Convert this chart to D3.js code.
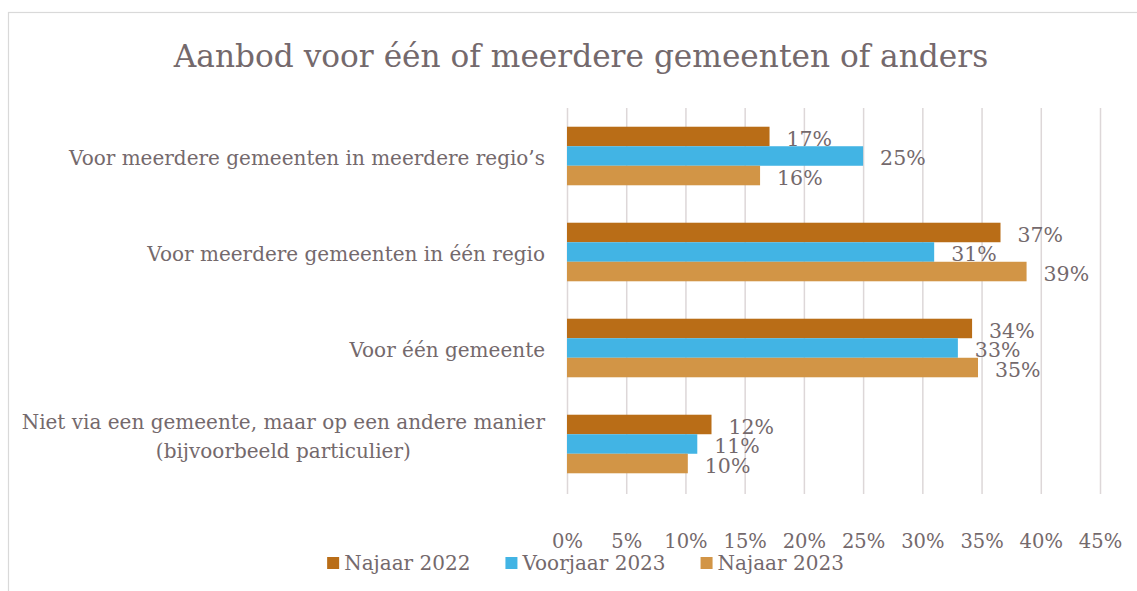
<!DOCTYPE html>
<html>
<head>
<meta charset="utf-8">
<script src="https://cdn.jsdelivr.net/npm/d3@7"></script>
<style>
  html, body { margin: 0; padding: 0; background: #fff; }
  svg { display: block; }
  text { font-family: "DejaVu Serif", "Liberation Serif", serif; fill: #74696C; }
</style>
</head>
<body>
<svg id="chart" width="1137" height="591"></svg>
<script>
const title = "Aanbod voor één of meerdere gemeenten of anders";
const categories = [
  ["Voor meerdere gemeenten in meerdere regio’s"],
  ["Voor meerdere gemeenten in één regio"],
  ["Voor één gemeente"],
  ["Niet via een gemeente, maar op een andere manier", "(bijvoorbeeld particulier)"]
];
const seriesNames = ["Najaar 2022", "Voorjaar 2023", "Najaar 2023"];
const najaar2022 = [0.171, 0.366, 0.342, 0.122];
const voorjaar2023 = [0.250, 0.310, 0.330, 0.110];
const najaar2023 = [0.163, 0.388, 0.347, 0.102];
const tickValues = [0, 0.05, 0.10, 0.15, 0.20, 0.25, 0.30, 0.35, 0.40, 0.45];
const colors = ["#B96D17", "#42B4E4", "#D29546"];

const seriesValues = [najaar2022, voorjaar2023, najaar2023];
const catKeys = categories.map(c => c.join(" "));

const svg = d3.select("#chart");
svg.append("rect").attr("width", 1137).attr("height", 591).attr("fill", "#fff");
// chart frame
svg.append("rect").attr("x", 8.5).attr("y", 12.5).attr("width", 1300).attr("height", 800)
  .attr("fill", "none").attr("stroke", "#D9D9D9").attr("stroke-width", 1.2);

// title
svg.append("text").attr("x", 581).attr("y", 67).attr("text-anchor", "middle")
  .style("font-size", "31.2px").text(title);

const x = d3.scaleLinear().domain([0, 0.45]).range([567, 1100]);
const y = d3.scaleBand().domain(catKeys).range([108, 492]).paddingInner(0.39).paddingOuter(0.195);
const ySub = d3.scaleBand().domain(seriesNames).range([0, y.bandwidth()]);

// gridlines via axis
const grid = svg.append("g").attr("transform", "translate(0,494)")
  .call(d3.axisBottom(x).tickValues(tickValues).tickSize(-386).tickFormat(""));
grid.select(".domain").remove();
grid.selectAll(".tick line").attr("stroke", "#DDD7D8").attr("stroke-width", 1.5);

// tick labels
const ax = svg.append("g").attr("transform", "translate(0,494)")
  .call(d3.axisBottom(x).tickValues(tickValues).tickSize(0).tickPadding(0).tickFormat(d3.format(".0%")));
ax.select(".domain").remove();
ax.selectAll(".tick text").attr("y", 47).attr("dy", "0.35em")
  .style("font-size", "19.5px").style("font-family", "DejaVu Serif").attr("fill", "#74696C");

// bars
seriesNames.forEach((s, si) => {
  const g = svg.append("g");
  g.selectAll("rect").data(seriesValues[si]).join("rect")
    .attr("x", x(0))
    .attr("y", (d, i) => y(catKeys[i]) + ySub(s))
    .attr("width", d => x(d) - x(0))
    .attr("height", ySub.bandwidth())
    .attr("fill", colors[si]);
  g.selectAll("text").data(seriesValues[si]).join("text")
    .attr("x", d => x(d) + 17)
    .attr("y", (d, i) => y(catKeys[i]) + ySub(s) + ySub.bandwidth() / 2 + 2)
    .attr("dy", "0.35em")
    .style("font-size", "20.5px")
    .text(d => d3.format(".0%")(d));
});

// category labels
const labelRight = 545;
categories.forEach((lines, i) => {
  const cy = y(catKeys[i]) + y.bandwidth() / 2;
  const n = lines.length;
  const first = cy + 2 - (n - 1) * 24;
  const g = svg.append("g");
  const texts = lines.map((ln, li) => g.append("text")
    .attr("y", first + li * 29).attr("dy", "0.35em")
    .style("font-size", "20px").text(ln));
  const widths = texts.map(t => t.node().getComputedTextLength());
  const maxW = Math.max(...widths);
  const center = labelRight - maxW / 2;
  texts.forEach(t => t.attr("x", center).attr("text-anchor", "middle"));
});

// legend
const legend = svg.append("g");
let lx = 0;
seriesNames.forEach((s, i) => {
  const it = legend.append("g").attr("transform", `translate(${lx},0)`);
  it.append("rect").attr("x", 0).attr("y", -6).attr("width", 12).attr("height", 12).attr("fill", colors[i]);
  const t = it.append("text").attr("x", 17).attr("dy", "0.35em").style("font-size", "20px").text(s);
  const w = 17 + t.node().getComputedTextLength();
  lx += w + 35;
});
const totalW = lx - 35;
legend.attr("transform", `translate(${585.5 - totalW / 2},563)`);
</script>
</body>
</html>
